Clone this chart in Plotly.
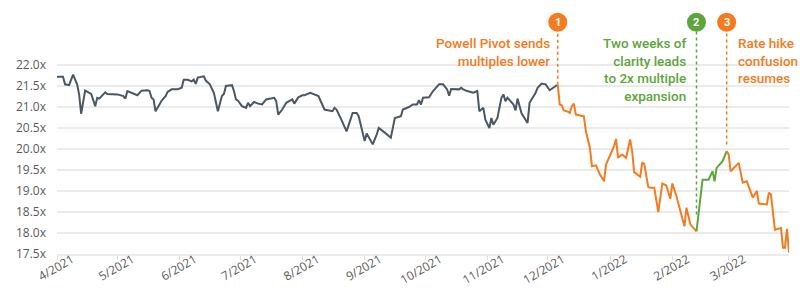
import plotly.graph_objects as go

# ---------------- data ----------------
dates = [
    "2021-04-01", "2021-04-04", "2021-04-05", "2021-04-07", "2021-04-09", "2021-04-10", "2021-04-11", "2021-04-12",
    "2021-04-13", "2021-04-15", "2021-04-18", "2021-04-20", "2021-04-21", "2021-04-22", "2021-04-25", "2021-04-26",
    "2021-05-01", "2021-05-04", "2021-05-05", "2021-05-06", "2021-05-11", "2021-05-13", "2021-05-16", "2021-05-17",
    "2021-05-18", "2021-05-19", "2021-05-20", "2021-05-23", "2021-05-25", "2021-05-26", "2021-05-28", "2021-05-31",
    "2021-06-02", "2021-06-03", "2021-06-05", "2021-06-07", "2021-06-08", "2021-06-09", "2021-06-10", "2021-06-13",
    "2021-06-14", "2021-06-16", "2021-06-18", "2021-06-20", "2021-06-22", "2021-06-23", "2021-06-24", "2021-06-27",
    "2021-06-28", "2021-06-29", "2021-06-30", "2021-07-02", "2021-07-04", "2021-07-05", "2021-07-06", "2021-07-08",
    "2021-07-10", "2021-07-12", "2021-07-14", "2021-07-18", "2021-07-19", "2021-07-20", "2021-07-22", "2021-07-24",
    "2021-07-27", "2021-07-28", "2021-07-30", "2021-08-01", "2021-08-02", "2021-08-05", "2021-08-07", "2021-08-09",
    "2021-08-12", "2021-08-16", "2021-08-17", "2021-08-18", "2021-08-20", "2021-08-23", "2021-08-26", "2021-08-28",
    "2021-08-29", "2021-08-31", "2021-09-01", "2021-09-02", "2021-09-03", "2021-09-05", "2021-09-07", "2021-09-08",
    "2021-09-11", "2021-09-14", "2021-09-16", "2021-09-19", "2021-09-20", "2021-09-23", "2021-09-25", "2021-09-27",
    "2021-09-28", "2021-09-29", "2021-09-30", "2021-10-03", "2021-10-05", "2021-10-08", "2021-10-10", "2021-10-12",
    "2021-10-13", "2021-10-14", "2021-10-18", "2021-10-19", "2021-10-20", "2021-10-22", "2021-10-25", "2021-10-27",
    "2021-10-28", "2021-10-30", "2021-10-31", "2021-11-02", "2021-11-03", "2021-11-04", "2021-11-06", "2021-11-08",
    "2021-11-09", "2021-11-10", "2021-11-11", "2021-11-14", "2021-11-15", "2021-11-16", "2021-11-18", "2021-11-21",
    "2021-11-22", "2021-11-25", "2021-11-26", "2021-11-28", "2021-11-30", "2021-12-02", "2021-12-05", "2021-12-06",
    "2021-12-07", "2021-12-08", "2021-12-09", "2021-12-11", "2021-12-12", "2021-12-13", "2021-12-14", "2021-12-15",
    "2021-12-18", "2021-12-19", "2021-12-20", "2021-12-22", "2021-12-23", "2021-12-25", "2021-12-27", "2021-12-29",
    "2021-12-30", "2022-01-01", "2022-01-03", "2022-01-04", "2022-01-05", "2022-01-07", "2022-01-09", "2022-01-11",
    "2022-01-12", "2022-01-13", "2022-01-15", "2022-01-16", "2022-01-17", "2022-01-18", "2022-01-20", "2022-01-21",
    "2022-01-23", "2022-01-25", "2022-01-27", "2022-01-29", "2022-01-31", "2022-02-01", "2022-02-03", "2022-02-05",
    "2022-02-07", "2022-02-08", "2022-02-10", "2022-02-13", "2022-02-15", "2022-02-16", "2022-02-19", "2022-02-21",
    "2022-02-22", "2022-02-23", "2022-02-26", "2022-02-28", "2022-03-01", "2022-03-02", "2022-03-06", "2022-03-08",
    "2022-03-10", "2022-03-13", "2022-03-15", "2022-03-16", "2022-03-20", "2022-03-21", "2022-03-22", "2022-03-24",
    "2022-03-27", "2022-03-28", "2022-03-29", "2022-03-30", "2022-03-31",
]

values = [
    21.72, 21.72, 21.54, 21.52, 21.77, 21.65, 21.54, 21.30,
    20.84, 21.39, 21.31, 21.02, 21.22, 21.20, 21.35, 21.31,
    21.30, 21.26, 21.20, 21.38, 21.28, 21.39, 21.40, 21.38,
    21.22, 21.18, 20.90, 21.15, 21.26, 21.36, 21.42, 21.42,
    21.46, 21.65, 21.65, 21.61, 21.65, 21.55, 21.70, 21.73,
    21.63, 21.54, 21.34, 20.90, 21.26, 21.31, 21.50, 21.52,
    21.38, 21.18, 21.15, 21.02, 20.98, 21.10, 21.02, 21.12,
    21.08, 21.06, 21.18, 21.22, 21.14, 20.82, 20.94, 21.10,
    21.18, 21.08, 21.23, 21.28, 21.28, 21.34, 21.30, 21.26,
    20.94, 20.90, 20.98, 20.94, 20.74, 20.42, 20.86, 20.86,
    20.78, 20.39, 20.19, 20.37, 20.27, 20.11, 20.35, 20.50,
    20.39, 20.27, 20.74, 20.78, 20.94, 21.00, 21.06, 21.06,
    21.16, 21.06, 21.22, 21.23, 21.38, 21.54, 21.54, 21.42,
    21.27, 21.43, 21.42, 21.46, 21.42, 21.38, 21.34, 21.38,
    20.90, 20.98, 20.70, 20.50, 20.74, 20.58, 20.74, 21.22,
    21.30, 21.14, 21.22, 21.06, 20.92, 21.20, 20.85, 20.62,
    21.10, 21.34, 21.46, 21.56, 21.54, 21.40, 21.50, 21.53,
    21.06, 21.04, 20.92, 20.89, 20.86, 21.02, 21.08, 20.82,
    20.80, 20.78, 20.42, 20.03, 19.59, 19.61, 19.39, 19.23,
    19.63, 19.83, 20.07, 20.24, 19.79, 19.87, 19.79, 20.23,
    19.95, 19.45, 19.37, 19.34, 19.67, 19.65, 19.10, 19.08,
    19.08, 18.50, 19.18, 19.13, 18.81, 19.18, 18.88, 18.50,
    18.16, 18.60, 18.20, 18.04, 18.84, 19.27, 19.27, 19.47,
    19.23, 19.55, 19.71, 19.95, 19.87, 19.47, 19.67, 19.20,
    19.23, 18.84, 19.00, 18.70, 18.68, 18.96, 18.92, 18.08,
    18.12, 17.65, 17.65, 18.10, 17.53,
]

month_ticks = ["2021-04-01", "2021-05-01", "2021-06-01", "2021-07-01", "2021-08-01", "2021-09-01",
               "2021-10-01", "2021-11-01", "2021-12-01", "2022-01-01", "2022-02-01", "2022-03-01"]
month_labels = ["4/2021", "5/2021", "6/2021", "7/2021", "8/2021", "9/2021",
                "10/2021", "11/2021", "12/2021", "1/2022", "2/2022", "3/2022"]

y_ticks = [17.5, 18.0, 18.5, 19.0, 19.5, 20.0, 20.5, 21.0, 21.5, 22.0]
y_labels = ["17.5x", "18.0x", "18.5x", "19.0x", "19.5x", "20.0x", "20.5x", "21.0x", "21.5x", "22.0x"]

event_dates = ["2021-12-06", "2022-02-13", "2022-02-28"]
event_numbers = ["1", "2", "3"]
event_texts = [
    "Powell Pivot sends<br>multiples lower",
    "Two weeks of<br>clarity leads<br>to 2x multiple<br>expansion",
    "Rate hike<br>confusion<br>resumes",
]

# ---------------- style ----------------
GRAY = "#4B5763"
ORANGE = "#F37B20"
GREEN = "#5CA63C"
GRID = "#EBEBEB"
TICK = "#5A5A5A"

segment_colors = [GRAY, ORANGE, GREEN, ORANGE]
event_colors = [ORANGE, GREEN, ORANGE]
event_text_side = ["right", "right", "left"]
event_text_shift = [-6, -8, 9]
leader_gap = [0.0, 0.40, 0.16]

CIRCLE_Y = 23.02
LEADER_TOP = 22.80
TEXT_TOP = 22.76
Y_TOP = 23.548

fig = go.Figure()

bounds = [dates[0]] + event_dates + [dates[-1]]
for i, col in enumerate(segment_colors):
    lo, hi = bounds[i], bounds[i + 1]
    xs = [d for d in dates if lo <= d <= hi]
    ys = [v for d, v in zip(dates, values) if lo <= d <= hi]
    fig.add_trace(go.Scatter(x=xs, y=ys, mode="lines",
                             line=dict(color=col, width=2), hoverinfo="skip",
                             showlegend=False))

shapes = []
annotations = []
for i, ed in enumerate(event_dates):
    ev = values[dates.index(ed)]
    col = event_colors[i]
    shapes.append(dict(type="line", xref="x", yref="y", x0=ed, x1=ed,
                       y0=ev + leader_gap[i], y1=LEADER_TOP,
                       line=dict(color=col, width=1.5, dash="3px,3px")))
    shapes.append(dict(type="circle", xref="x", yref="y", xsizemode="pixel", ysizemode="pixel",
                       xanchor=ed, yanchor=CIRCLE_Y, x0=-9.5, x1=9.5, y0=-9.5, y1=9.5,
                       fillcolor=col, line=dict(width=0)))
    annotations.append(dict(x=ed, y=CIRCLE_Y, xref="x", yref="y", text="<b>" + event_numbers[i] + "</b>",
                            showarrow=False, xanchor="center", yanchor="middle",
                            font=dict(family="Roboto", size=11, color="white")))
    side = event_text_side[i]
    annotations.append(dict(x=ed, y=TEXT_TOP, xref="x", yref="y", text=event_texts[i],
                            showarrow=False, xanchor=side, yanchor="top", align=side,
                            xshift=event_text_shift[i],
                            font=dict(family="Roboto", size=13.5, color=col, weight=500)))

fig.update_layout(
    width=800, height=292,
    margin=dict(l=57, r=11, t=0, b=38),
    paper_bgcolor="white", plot_bgcolor="white",
    shapes=shapes, annotations=annotations,
    xaxis=dict(
        type="date", range=["2021-04-01", "2022-03-31"], automargin=False,
        tickvals=month_ticks, ticktext=month_labels, tickangle=-30,
        ticklabelshift=15, ticklabelstandoff=-12,
        tickfont=dict(family="Open Sans", size=12, color=TICK),
        showgrid=False, showline=True, linecolor=GRID, linewidth=2,
        ticks="outside", ticklen=4, tickcolor="#DDDDDD", tickwidth=1,
        zeroline=False,
    ),
    yaxis=dict(
        range=[17.5, Y_TOP], tickvals=y_ticks, ticktext=y_labels, automargin=False,
        tickfont=dict(family="Open Sans", size=12, color=TICK),
        showgrid=True, gridcolor=GRID, gridwidth=2,
        ticklabelstandoff=10, zeroline=False, showline=False,
    ),
)

fig.write_html("out.html")
